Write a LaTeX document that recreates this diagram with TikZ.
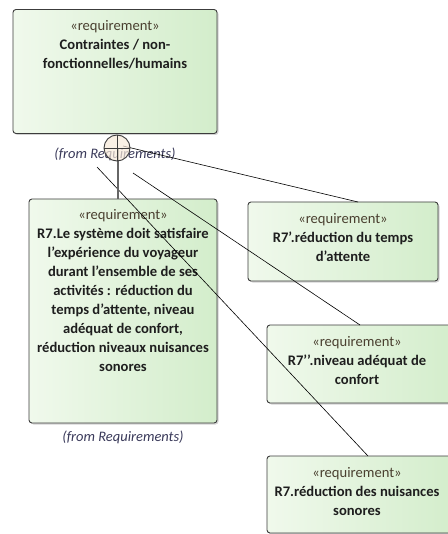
\documentclass[tikz,border=0pt]{standalone}
\usepackage{fontspec}
\setmainfont{Carlito}
\usetikzlibrary{shadows}
\definecolor{boxleft}{HTML}{F0F9EC}
\definecolor{boxright}{HTML}{D3EDCB}
\definecolor{boxborder}{HTML}{3C3C3C}
\definecolor{stereo}{HTML}{4A4030}
\definecolor{nametxt}{HTML}{1E1E1E}
\definecolor{fromtxt}{HTML}{3A3A5A}
\definecolor{circfill}{HTML}{F7E9D9}
\tikzset{
  reqbox/.style={draw=boxborder, line width=0.9pt, rounded corners=3pt,
    left color=boxleft, right color=boxright,
    drop shadow={shadow xshift=1.5pt, shadow yshift=-1.5pt, opacity=0.35, fill=gray},
    inner sep=0pt},
  reqtext/.style={anchor=north, align=center, inner sep=0pt, text=nametxt,
    font=\fontsize{14.6}{19}\selectfont\bfseries},
  fromlbl/.style={font=\fontsize{14.5}{16}\selectfont\itshape, text=fromtxt, inner sep=0pt},
  conn/.style={draw=black, line width=0.6pt},
}
\newcommand{\stereoline}{{\mdseries\color{stereo}«requirement»}}
\newcommand{\ap}{\symbol{39}}
\begin{document}
\begin{tikzpicture}[x=1pt,y=-1pt]
\useasboundingbox (0,0) rectangle (447,534);
% boxes
\node[reqbox, minimum width=204pt, minimum height=124pt] (c) at (115,71.5) {};
\node[reqbox, minimum width=188pt, minimum height=224pt] (r7) at (123,311) {};
\node[reqbox, minimum width=190pt, minimum height=79pt] (r7a) at (343,241.5) {};
\node[reqbox, minimum width=190pt, minimum height=78pt] (r7b) at (362,364) {};
\node[reqbox, minimum width=190pt, minimum height=77pt] (r7c) at (362,494.5) {};
% texts
\node[reqtext] (ct) at (115,20) {\stereoline\\Contraintes / non-\\fonctionnelles/humains};
\node[reqtext] (r7t) at (123,209) {\stereoline\\R7.Le système doit satisfaire\\l\ap expérience du voyageur\\durant l\ap ensemble de ses\\activités : réduction du\\temps d\ap attente, niveau\\adéquat de confort,\\réduction niveaux nuisances\\sonores};
\node[reqtext] (r7at) at (343,213) {\stereoline\\R7\ap.réduction du temps\\d\ap attente};
\node[reqtext] (r7bt) at (357,336) {\stereoline\\R7\ap\ap.niveau adéquat de\\confort};
\node[reqtext] (r7ct) at (357,467) {\stereoline\\R7.réduction des nuisances\\sonores};
\node[fromlbl] (from1) at (115,154.5) {(from Requirements)};
\node[fromlbl] (from2) at (123,437) {(from Requirements)};
% connectors
\coordinate (s1) at (123,146);
\coordinate (s2) at (97,167);
\coordinate (s3) at (133,173);
\coordinate (e1) at (358,202);
\coordinate (e2) at (368,456);
\coordinate (e3) at (360,325);
\draw[conn] (s1) -- (e1);
\draw[conn] (s2) -- (e2);
\draw[conn] (s3) -- (e3);
\coordinate (vtop) at (118,148);
\coordinate (vbot) at (118,199);
\draw[draw=gray!80!black, line width=1.4pt] (vtop) -- (vbot);
% containment circle
\node[circle, draw=boxborder, fill=circfill, fill opacity=0.7, line width=0.9pt,
  minimum size=26pt, inner sep=0pt] (circ) at (117,148) {};
\draw[boxborder, line width=0.9pt] (circ.north) -- (circ.south);
\draw[boxborder, line width=0.9pt] (circ.west) -- (circ.east);
\end{tikzpicture}
\end{document}
